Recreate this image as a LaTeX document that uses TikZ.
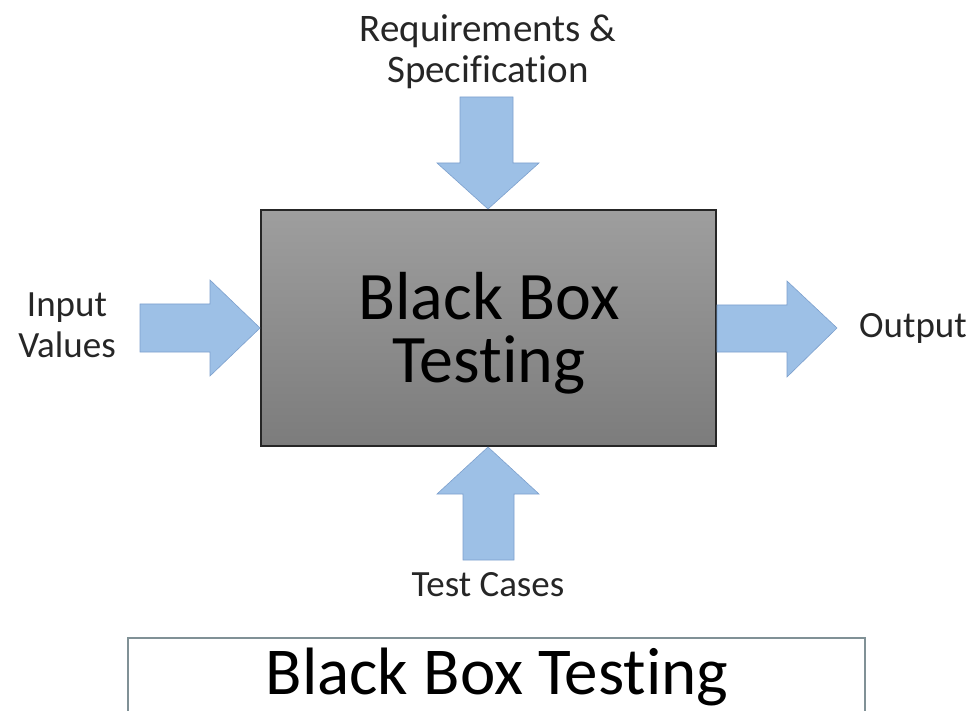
\documentclass[tikz,border=0pt]{standalone}
\usepackage{fontspec}
\setmainfont{Carlito}[Ligatures={NoCommon}]
\definecolor{arrowblue}{RGB}{157,192,230}
\definecolor{arrowedge}{RGB}{125,160,205}
\definecolor{boxtop}{RGB}{158,158,158}
\definecolor{boxbot}{RGB}{124,124,124}
\definecolor{frameedge}{RGB}{128,145,150}
\begin{document}
\begin{tikzpicture}[x=1pt,y=-1pt,
  blockarrow/.style={fill=arrowblue,draw=arrowedge,line width=0.6pt,line join=miter},
  lbl/.style={font=\fontsize{37}{41}\selectfont,align=center,inner sep=0pt,text=black!85},
  mainbox/.style={draw=black!85,line width=2pt,top color=boxtop,bottom color=boxbot,inner sep=0pt},
  framebox/.style={draw=frameedge,line width=1.2pt}]
\useasboundingbox (0,0) rectangle (977,711);
% main box
\node[mainbox,minimum width=455pt,minimum height=236pt] (bb) at (488.5,328) {};
\node[lbl,font=\fontsize{68}{63}\selectfont,text=black] (bbt) at (489,333) {Black Box\\Testing};
% top arrow (Requirements)
\draw[blockarrow] (460,97) -- (513,97) -- (513,163) -- (539,163) -- (bb.north -| 488,0) -- (437,163) -- (460,163) -- cycle;
% bottom arrow (Test cases)
\draw[blockarrow] (463,560) -- (514,560) -- (514,494) -- (539,494) -- (bb.south -| 488,0) -- (437,494) -- (463,494) -- cycle;
% left arrow (Input)
\draw[blockarrow] (140,304) -- (210,304) -- (210,280) -- (bb.west |- 0,328) -- (210,376) -- (210,352) -- (140,352) -- cycle;
% right arrow (Output)
\draw[blockarrow] (bb.east |- 0,305) -- (787,305) -- (787,281) -- (837,328) -- (787,377) -- (787,352) -- (bb.east |- 0,352) -- cycle;
% labels
\node[lbl,font=\fontsize{39}{41}\selectfont] (req) at (488,52) {Requirements \&\\Specification};
\node[lbl] (inp) at (67,325) {Input\\Values};
\node[lbl] (out) at (913,328) {Output};
\node[lbl] (tc) at (488,585) {Test Cases};
% bottom caption box
\draw[framebox] (128,720) -- (128,638) -- (865,638) -- (865,720);
\node[lbl,font=\fontsize{67}{67}\selectfont,text=black] (cap) at (497,677) {Black Box Testing};
\end{tikzpicture}
\end{document}
